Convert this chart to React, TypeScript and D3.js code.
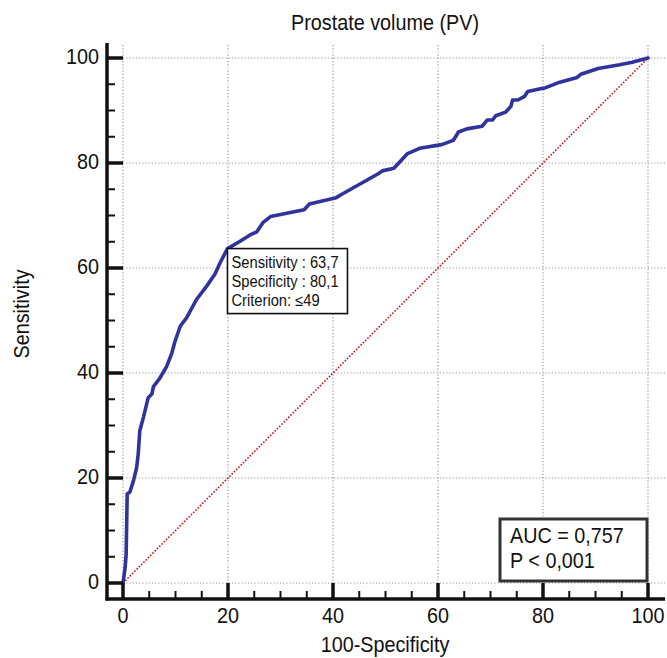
import React from "react";
import * as d3 from "d3";

const fpr = [0, 0.4, 0.6, 0.8, 1.3, 2.0, 2.6, 2.9, 3.2, 3.9, 4.8, 5.5, 5.8, 7.0, 8.3, 9.3, 9.9, 10.9, 12.1, 14.0, 15.9, 17.5, 18.5, 19.9, 22.3, 24.2, 25.5, 26.7, 28.1, 34.5, 35.5, 40.6, 41.6, 48.7, 49.4, 51.6, 54.2, 56.5, 60.7, 62.9, 63.9, 65.5, 68.4, 69.4, 70.4, 71.0, 72.9, 73.9, 74.2, 75.2, 76.5, 77.1, 79.7, 80.4, 83.2, 86.5, 87.2, 90.5, 94.6, 97.0, 100];
const sens = [0, 2.9, 5.5, 17.0, 17.3, 19.5, 22.0, 24.6, 29.0, 31.6, 35.3, 36.0, 37.4, 39.0, 41.2, 43.8, 46.0, 48.9, 50.5, 54.0, 56.5, 58.8, 61.0, 63.7, 65.1, 66.3, 66.9, 68.7, 69.8, 71.1, 72.2, 73.4, 74.0, 78.0, 78.5, 79.0, 81.8, 82.8, 83.5, 84.3, 85.9, 86.5, 87.0, 88.2, 88.2, 89.0, 89.7, 90.8, 92.0, 92.0, 92.7, 93.6, 94.2, 94.3, 95.4, 96.3, 96.9, 98.0, 98.7, 99.2, 100];
const majorTicks = [0, 20, 40, 60, 80, 100];
const minorTicks = [5, 10, 15, 25, 30, 35, 45, 50, 55, 65, 70, 75, 85, 90, 95];
const cutPoint = { x: 19.9, y: 63.7 };
const cutLines = ["Sensitivity : 63,7", "Specificity : 80,1", "Criterion: \u226449"];
const aucLines = ["AUC = 0,757", "P < 0,001"];
const title = "Prostate volume (PV)";
const xTitle = "100-Specificity";
const yTitle = "Sensitivity";

const W = 667, H = 658;
const FONT = "'Liberation Sans', Arial, Helvetica, sans-serif";

function T(props: { x: number; y: number; size?: number; anchor?: string; rotate?: number; sx?: number; children: React.ReactNode }) {
  const { x, y, size = 22, anchor = "start", rotate = 0, sx = 0.9, children } = props;
  return (
    <text
      transform={`translate(${x},${y}) rotate(${rotate}) scale(${sx},1)`}
      textAnchor={anchor}
      fontSize={size}
      fill="#111"
    >
      {children}
    </text>
  );
}

export default function App() {
  const x = d3.scaleLinear().domain([0, 100]).range([123, 648]);
  const y = d3.scaleLinear().domain([0, 100]).range([583, 58]);
  const axisX = 107, axisY = 599, gridTop = 45, gridRight = 665;
  const pts = fpr.map((f, i) => [f, sens[i]] as [number, number]);
  const line = d3.line<[number, number]>().x(d => x(d[0])).y(d => y(d[1]));
  const cx = x(cutPoint.x), cy = y(cutPoint.y);

  return (
    <svg width={W} height={H} style={{ position: "absolute", left: 0, top: 0, background: "#fff" }} fontFamily={FONT}>
      <rect x={0} y={0} width={W} height={H} fill="#fff" />
      {majorTicks.map(t => (
        <line key={"gv" + t} x1={x(t)} x2={x(t)} y1={gridTop} y2={y(0)} stroke="#9a9a9a" strokeWidth={1.2} strokeDasharray="1.2,2" />
      ))}
      {majorTicks.map(t => (
        <line key={"gh" + t} x1={x(0)} x2={gridRight} y1={y(t)} y2={y(t)} stroke="#9a9a9a" strokeWidth={1.2} strokeDasharray="1.2,2" />
      ))}
      <line x1={x(0)} y1={y(0)} x2={x(100)} y2={y(100)} stroke="#c8161d" strokeWidth={1.6} strokeDasharray="1.6,1.6" />
      <path d={line(pts) || ""} fill="none" stroke="#30339c" strokeWidth={3.6} strokeLinejoin="round" strokeLinecap="round" />
      <line x1={axisX} x2={axisX} y1={gridTop - 2} y2={axisY + 1.5} stroke="#111" strokeWidth={3.5} />
      <line x1={axisX - 1.5} x2={gridRight} y1={axisY} y2={axisY} stroke="#111" strokeWidth={3.5} />
      {majorTicks.map(t => (
        <g key={"mt" + t}>
          <line x1={axisX} x2={x(0)} y1={y(t)} y2={y(t)} stroke="#111" strokeWidth={3.5} />
          <line x1={x(t)} x2={x(t)} y1={axisY} y2={y(0)} stroke="#111" strokeWidth={3.5} />
          <T x={99} y={y(t) + 6} anchor="end">{t}</T>
          <T x={x(t)} y={623} anchor="middle">{t}</T>
        </g>
      ))}
      {minorTicks.map(t => (
        <g key={"nt" + t}>
          <line x1={axisX} x2={axisX + 8} y1={y(t)} y2={y(t)} stroke="#111" strokeWidth={2} />
          <line x1={x(t)} x2={x(t)} y1={axisY} y2={axisY - 8} stroke="#111" strokeWidth={2} />
        </g>
      ))}
      <T x={385} y={30} anchor="middle">{title}</T>
      <T x={385} y={652} anchor="middle">{xTitle}</T>
      <T x={29} y={314} anchor="middle" rotate={-90}>{yTitle}</T>
      <rect x={cx} y={cy} width={120} height={65} fill="#fff" stroke="#111" strokeWidth={1.6} />
      {cutLines.map((s, i) => (
        <T key={"c" + i} x={cx + 4} y={cy + 19 + i * 19} size={16} sx={0.92}>{s}</T>
      ))}
      <rect x={500} y={519} width={147} height={62} fill="#fff" stroke="#333" strokeWidth={3} />
      {aucLines.map((s, i) => (
        <T key={"a" + i} x={510} y={543 + i * 25}>{s}</T>
      ))}
    </svg>
  );
}
